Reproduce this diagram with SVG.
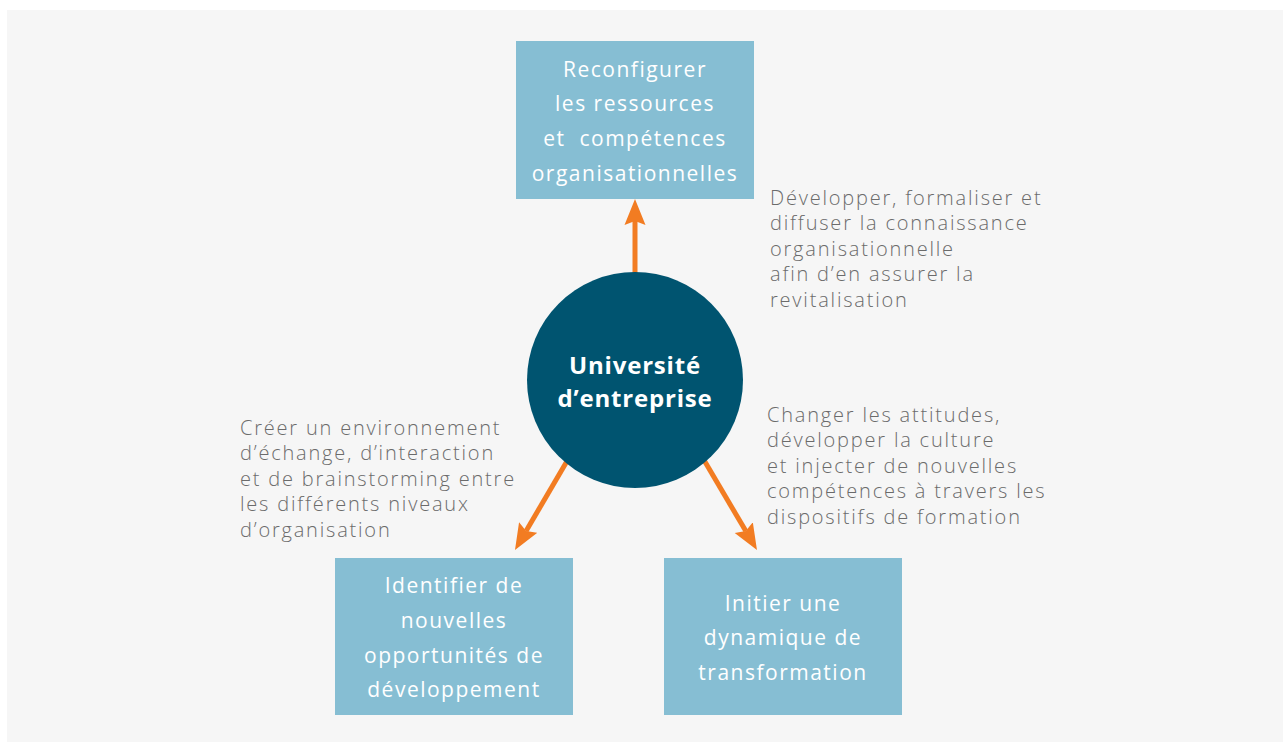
<svg xmlns="http://www.w3.org/2000/svg" width="1283" height="742" viewBox="0 0 1283 742">
<defs>
<style>
.box{fill:#86bed3}
.bt{font-family:"Open Sans","Liberation Sans",sans-serif;font-size:21px;font-weight:500;fill:#ffffff;text-anchor:middle;letter-spacing:1.5px}
.ann{font-family:"Open Sans","Liberation Sans",sans-serif;font-size:20px;font-weight:300;fill:#6b6b6b;letter-spacing:1.8px}
.ct{font-family:"Open Sans","Liberation Sans",sans-serif;font-size:24px;font-weight:700;fill:#ffffff;text-anchor:middle;letter-spacing:0.8px}
.conn{stroke:#f27c22;stroke-width:5;fill:none;marker-end:url(#ah)}
</style>
<marker id="ah" markerUnits="userSpaceOnUse" viewBox="0 -11 26 22" markerWidth="26" markerHeight="22" refX="4" refY="0" orient="auto">
<path d="M26,0 L0,-10.5 L4,0 L0,10.5 Z" fill="#f27c22"/>
</marker>
</defs>
<rect x="0" y="0" width="1283" height="742" fill="#ffffff"/>
<rect x="7" y="10" width="1276" height="732" fill="#f6f6f6"/>
<g id="connectors">
<line class="conn" x1="635" y1="300" x2="635" y2="221"/>
<line class="conn" x1="570" y1="456" x2="526.1" y2="531"/>
<line class="conn" x1="701" y1="455" x2="745.8" y2="531.1"/>
</g>
<g id="node-center">
<circle cx="635" cy="380" r="108" fill="#005470"/>
<text class="ct" x="635" y="374">Université</text>
<text class="ct" x="635" y="407">d’entreprise</text>
</g>
<g id="node-top">
<rect class="box" x="516" y="41" width="238" height="158"/>
<text class="bt" x="635" y="77">Reconfigurer</text>
<text class="bt" x="635" y="111">les ressources</text>
<text class="bt" x="635" y="146" xml:space="preserve">et  compétences</text>
<text class="bt" x="635" y="181">organisationnelles</text>
</g>
<g id="node-left">
<rect class="box" x="335" y="558" width="238" height="157"/>
<text class="bt" x="454" y="593">Identifier de</text>
<text class="bt" x="454" y="628">nouvelles</text>
<text class="bt" x="454" y="663">opportunités de</text>
<text class="bt" x="454" y="697">développement</text>
</g>
<g id="node-right">
<rect class="box" x="664" y="558" width="238" height="157"/>
<text class="bt" x="783" y="611">Initier une</text>
<text class="bt" x="783" y="645">dynamique de</text>
<text class="bt" x="783" y="680">transformation</text>
</g>
<g id="annot-top-right">
<text class="ann" x="770" y="205">Développer, formaliser et</text>
<text class="ann" x="770" y="230">diffuser la connaissance</text>
<text class="ann" x="770" y="256">organisationnelle</text>
<text class="ann" x="770" y="281">afin d’en assurer la</text>
<text class="ann" x="770" y="307">revitalisation</text>
</g>
<g id="annot-left">
<text class="ann" x="240" y="435">Créer un environnement</text>
<text class="ann" x="240" y="460">d’échange, d’interaction</text>
<text class="ann" x="240" y="486">et de brainstorming entre</text>
<text class="ann" x="240" y="511">les différents niveaux</text>
<text class="ann" x="240" y="537">d’organisation</text>
</g>
<g id="annot-right">
<text class="ann" x="767" y="422">Changer les attitudes,</text>
<text class="ann" x="767" y="447">développer la culture</text>
<text class="ann" x="767" y="473">et injecter de nouvelles</text>
<text class="ann" x="767" y="498">compétences à travers les</text>
<text class="ann" x="767" y="524">dispositifs de formation</text>
</g>
</svg>
